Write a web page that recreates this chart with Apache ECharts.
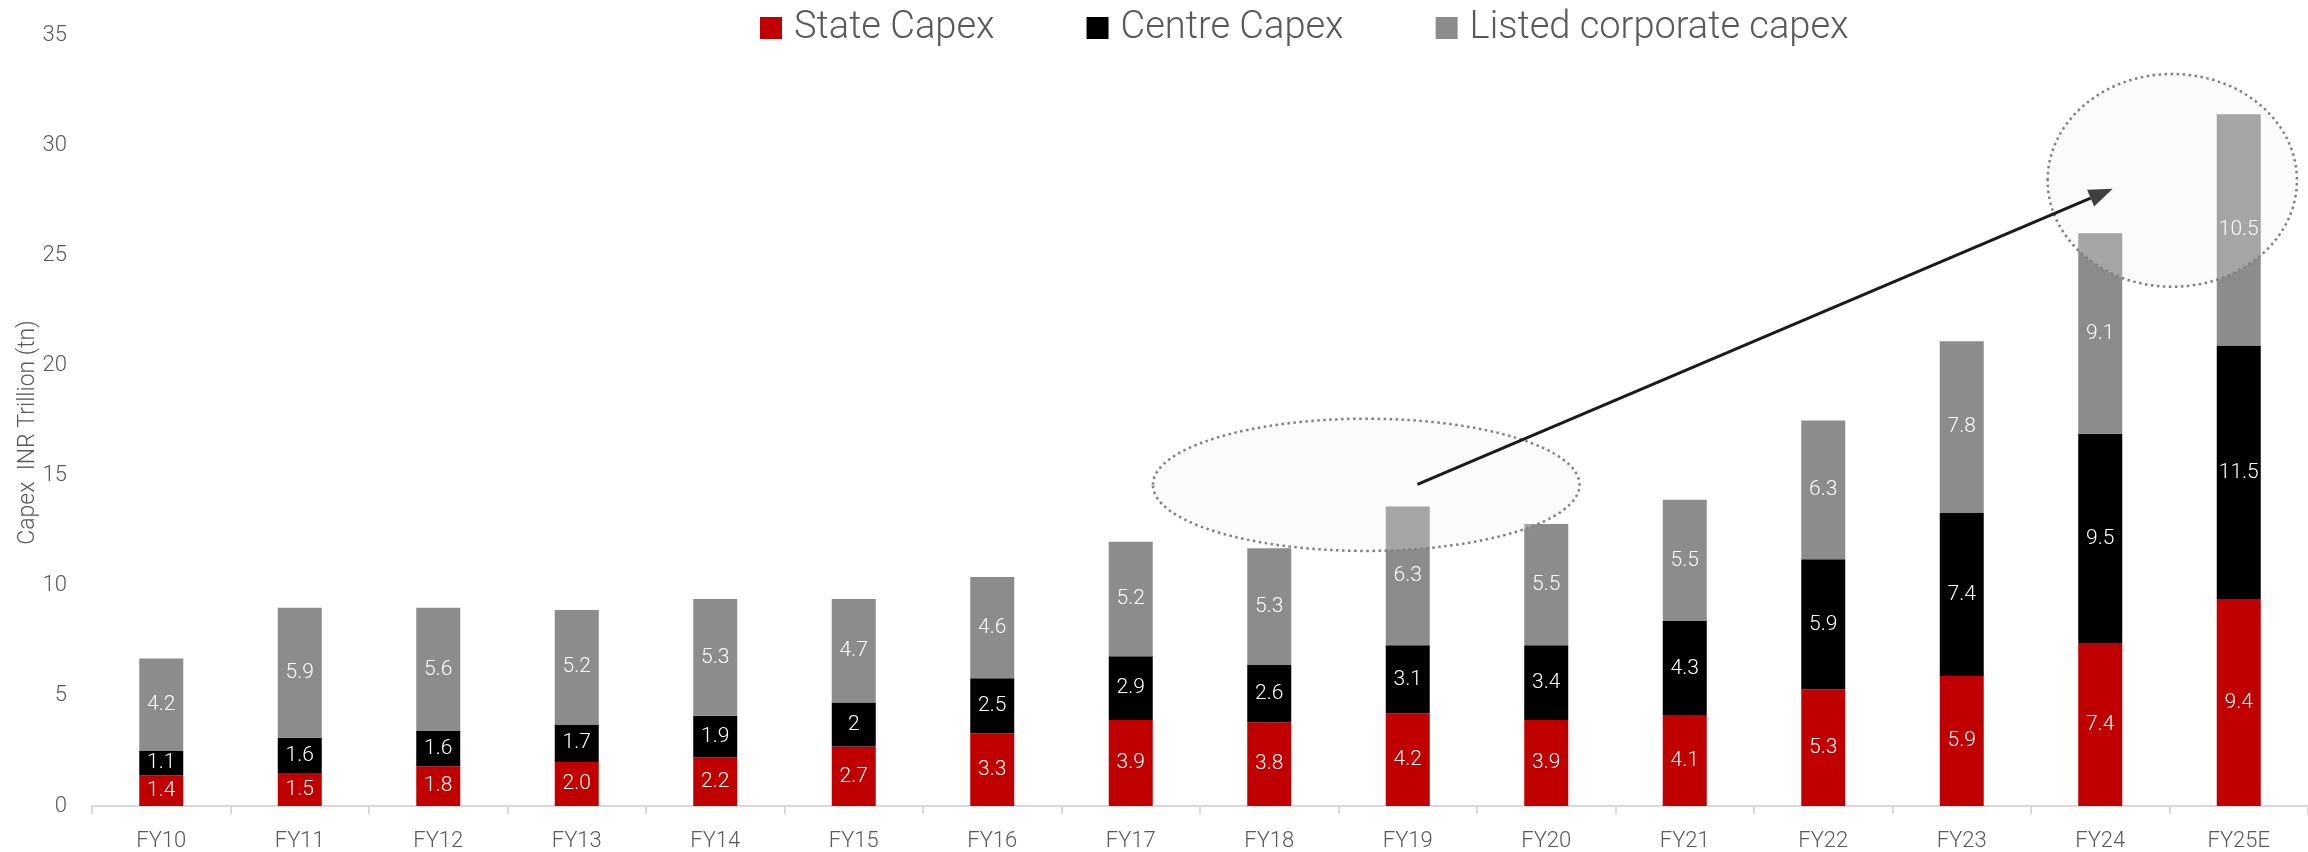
<!DOCTYPE html>
<html>
<head>
<meta charset="utf-8">
<script src="https://cdn.jsdelivr.net/npm/echarts@6/dist/echarts.min.js"></script>
<style>
html,body{margin:0;padding:0;background:#fff;}
#chart{width:2308px;height:852px;}
</style>
</head>
<body>
<div id="chart"></div>
<script>
const categories = ['FY10','FY11','FY12','FY13','FY14','FY15','FY16','FY17','FY18','FY19','FY20','FY21','FY22','FY23','FY24','FY25E'];
const stateCapex = [1.4,1.5,1.8,2.0,2.2,2.7,3.3,3.9,3.8,4.2,3.9,4.1,5.3,5.9,7.4,9.4];
const centreCapex = [1.1,1.6,1.6,1.7,1.9,2,2.5,2.9,2.6,3.1,3.4,4.3,5.9,7.4,9.5,11.5];
const listedCapex = [4.2,5.9,5.6,5.2,5.3,4.7,4.6,5.2,5.3,6.3,5.5,5.5,6.3,7.8,9.1,10.5];
const seriesNames = ['State Capex','Centre Capex','Listed corporate capex'];
const yTicks = {min:0, max:35, interval:5};

// annotation anchors in data space: [categoryIndex, value, radiusInCategories, radiusInValue]
const ellipseLeft = [8.70, 14.58, 1.54, 3.0];
const ellipseRight = [14.52, 28.40, 0.90, 4.83];
const arrowFrom = [9.07, 14.6];
const arrowTo = [14.09, 28.02];

const FONT = "Roboto, 'Noto Sans', sans-serif";
const chart = echarts.init(document.getElementById('chart'), null, {renderer:'canvas'});

const labelStyle = {show:true, position:'inside', color:'#ffffff', fontSize:21, fontFamily:FONT, fontWeight:300};
const legendTextWidths = [198, 223, 378];

chart.setOption({
  animation:false,
  backgroundColor:'#ffffff',
  legend:{
    left:755, top:4,
    itemWidth:22, itemHeight:22, itemGap:92,
    icon:'rect',
    textStyle:{color:'#595959', fontSize:38, fontFamily:FONT, fontWeight:300, padding:[0,0,0,7]},
    data:seriesNames.map((n,i)=>({name:n, textStyle:{width:legendTextWidths[i]}}))
  },
  grid:{left:92, right:-10, top:35, bottom:45, containLabel:false},
  xAxis:{
    type:'category', data:categories,
    axisLine:{show:true, lineStyle:{color:'#d9d9d9', width:2}},
    axisTick:{show:true, length:8, lineStyle:{color:'#d9d9d9', width:2}},
    axisLabel:{color:'#595959', fontSize:22, fontFamily:FONT, fontWeight:300, margin:24}
  },
  yAxis:{
    type:'value', min:yTicks.min, max:yTicks.max, interval:yTicks.interval,
    name:'Capex  INR Trillion (tn)', nameLocation:'middle', nameGap:52, nameRotate:90,
    nameMoveOverlap:false,
    nameTextStyle:{color:'#595959', fontSize:23, fontFamily:FONT, fontWeight:300, padding:[0,24,0,0]},
    axisLine:{show:false}, axisTick:{show:false}, splitLine:{show:false},
    axisLabel:{color:'#595959', fontSize:22, fontFamily:FONT, fontWeight:300, margin:25}
  },
  series:[
    {name:seriesNames[0], type:'bar', stack:'t', barWidth:44, data:stateCapex,
     itemStyle:{color:'#c00000'}, label:Object.assign({}, labelStyle, {formatter:p=>p.value.toFixed(1)})},
    {name:seriesNames[1], type:'bar', stack:'t', barWidth:44, data:centreCapex,
     itemStyle:{color:'#000000'}, label:Object.assign({}, labelStyle)},
    {name:seriesNames[2], type:'bar', stack:'t', barWidth:44, data:listedCapex,
     itemStyle:{color:'#8c8c8c'}, label:Object.assign({}, labelStyle)}
  ]
});

function toPx(idx, val){
  const a = chart.convertToPixel({xAxisIndex:0}, 0);
  const b = chart.convertToPixel({xAxisIndex:0}, 1);
  const x = a + (b - a) * idx;
  const y = chart.convertToPixel({yAxisIndex:0}, val);
  return [x, y];
}
function ellipseGraphic(e){
  const c = toPx(e[0], e[1]);
  const a = chart.convertToPixel({xAxisIndex:0}, 0);
  const b = chart.convertToPixel({xAxisIndex:0}, 1);
  const rx = (b - a) * e[2];
  const ry = Math.abs(chart.convertToPixel({yAxisIndex:0}, e[3]) - chart.convertToPixel({yAxisIndex:0}, 0));
  return {type:'ellipse', z:100, shape:{cx:c[0], cy:c[1], rx:rx, ry:ry},
    style:{fill:'rgba(240,240,240,0.25)', stroke:'#808080', lineWidth:2.5, lineDash:[2.5,3.5]}};
}
const p1 = toPx(arrowFrom[0], arrowFrom[1]);
const p2 = toPx(arrowTo[0], arrowTo[1]);
const ang = Math.atan2(p2[1]-p1[1], p2[0]-p1[0]);
const headLen = 24, headW = 9;
const bx = p2[0] - headLen*Math.cos(ang), by = p2[1] - headLen*Math.sin(ang);
const head = [
  [p2[0], p2[1]],
  [bx + headW*Math.sin(ang), by - headW*Math.cos(ang)],
  [bx - headW*Math.sin(ang), by + headW*Math.cos(ang)]
];
chart.setOption({graphic:[
  ellipseGraphic(ellipseLeft),
  ellipseGraphic(ellipseRight),
  {type:'line', z:110, shape:{x1:p1[0], y1:p1[1], x2:bx, y2:by}, style:{stroke:'#1a1a1a', lineWidth:3}},
  {type:'polygon', z:110, shape:{points:head}, style:{fill:'#404040'}}
]});
</script>
</body>
</html>
